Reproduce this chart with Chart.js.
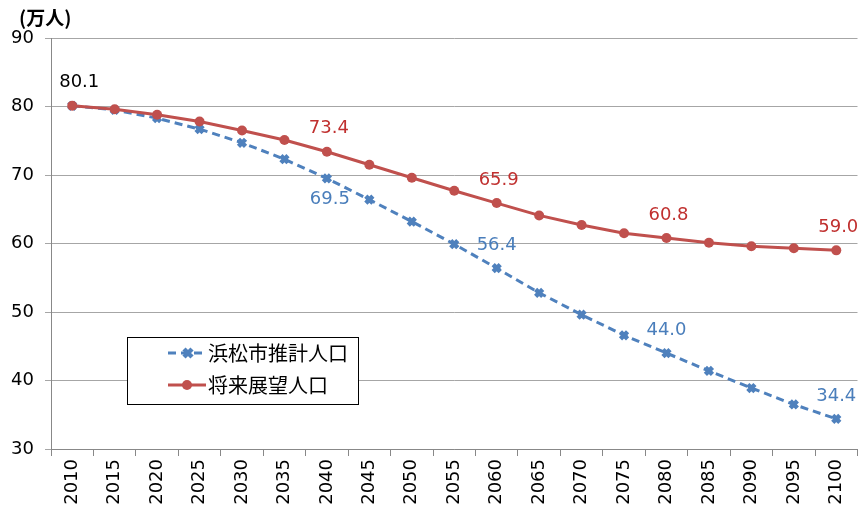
<!DOCTYPE html>
<html>
<head>
<meta charset="utf-8">
<script src="https://cdn.jsdelivr.net/npm/chart.js@4"></script>
<style>
  html, body { margin: 0; padding: 0; background: #fff; overflow: hidden; }
  #wrap { width: 861px; height: 515px; position: relative; overflow: hidden; }
</style>
</head>
<body>
<div id="wrap"><canvas id="c" width="867" height="515"></canvas></div>
<script>
const years = ['2010','2015','2020','2025','2030','2035','2040','2045','2050','2055',
               '2060','2065','2070','2075','2080','2085','2090','2095','2100'];
const estimate = [80.1, 79.5, 78.3, 76.7, 74.7, 72.3, 69.5, 66.4, 63.2, 59.9,
                  56.4, 52.8, 49.6, 46.6, 44.0, 41.4, 38.9, 36.5, 34.4];
const vision   = [80.1, 79.6, 78.8, 77.8, 76.5, 75.1, 73.4, 71.5, 69.6, 67.7,
                  65.9, 64.1, 62.7, 61.5, 60.8, 60.1, 59.6, 59.3, 59.0];
const yTicks = [30, 40, 50, 60, 70, 80, 90];
const seriesNames = ['浜松市推計人口', '将来展望人口'];
const unitLabel = '(万人)';

// which points get a value label, and where
const estimateLabels = [6, 10, 14, 18];
const visionLabels = [0, 6, 10, 14, 18];

const BLUE = '#4F81BD';
const RED = '#C0504D';
const NUM_FONT = '18px "DejaVu Sans", Verdana, sans-serif';
const JP_FONT = '"Noto Sans CJK JP", sans-serif';

const decorPlugin = {
  id: 'decor',
  afterDatasetsDraw(chart) {
    const ctx = chart.ctx;
    ctx.save();

    // unit label
    ctx.fillStyle = '#000';
    ctx.font = 'bold 19px ' + JP_FONT;
    ctx.textAlign = 'left';
    ctx.textBaseline = 'middle';
    ctx.fillText(unitLabel, 19, 18);

    // value labels
    ctx.font = NUM_FONT;
    ctx.textAlign = 'center';
    ctx.textBaseline = 'middle';
    const blueMeta = chart.getDatasetMeta(0);
    estimateLabels.forEach(i => {
      const p = blueMeta.data[i];
      ctx.fillStyle = '#4A7EBB';
      const below = i === 6;
      ctx.fillText(estimate[i].toFixed(1), p.x + (below ? 3 : 0), below ? p.y + 21 : p.y - 23);
    });
    const redMeta = chart.getDatasetMeta(1);
    visionLabels.forEach(i => {
      const p = redMeta.data[i];
      ctx.fillStyle = i === 0 ? '#000' : '#C0302F';
      ctx.fillText(vision[i].toFixed(1), p.x + (i === 0 ? 7 : 2), p.y - 23);
    });

    // legend box
    ctx.fillStyle = '#fff';
    ctx.fillRect(127, 337, 231, 67);
    ctx.strokeStyle = '#000';
    ctx.lineWidth = 1;
    ctx.strokeRect(127.5, 337.5, 231, 67);

    // estimate row
    ctx.strokeStyle = BLUE;
    ctx.lineWidth = 3;
    ctx.setLineDash([8, 5]);
    ctx.beginPath(); ctx.moveTo(168, 353); ctx.lineTo(205, 353); ctx.stroke();
    ctx.setLineDash([]);
    ctx.lineWidth = 4.5;
    ctx.beginPath();
    ctx.moveTo(184, 349); ctx.lineTo(192, 357);
    ctx.moveTo(192, 349); ctx.lineTo(184, 357);
    ctx.stroke();

    // vision row
    ctx.strokeStyle = RED;
    ctx.lineWidth = 3;
    ctx.beginPath(); ctx.moveTo(168, 385); ctx.lineTo(206, 385); ctx.stroke();
    ctx.fillStyle = RED;
    ctx.beginPath(); ctx.arc(187, 385, 5, 0, Math.PI * 2); ctx.fill();

    ctx.fillStyle = '#000';
    ctx.font = '20px ' + JP_FONT;
    ctx.textAlign = 'left';
    ctx.fillText(seriesNames[0], 208, 353);
    ctx.fillText(seriesNames[1], 208, 385);

    ctx.restore();
  }
};

new Chart(document.getElementById('c'), {
  type: 'line',
  data: {
    labels: years,
    datasets: [
      {
        label: seriesNames[0],
        data: estimate,
        borderColor: BLUE,
        backgroundColor: BLUE,
        borderWidth: 3,
        borderDash: [8, 5],
        pointStyle: 'crossRot',
        pointRadius: 5,
        pointBorderWidth: 4.5,
        pointBorderColor: BLUE,
        tension: 0,
        order: 2
      },
      {
        label: seriesNames[1],
        data: vision,
        borderColor: RED,
        backgroundColor: RED,
        borderWidth: 3,
        pointStyle: 'circle',
        pointRadius: 5,
        pointBorderWidth: 0,
        tension: 0,
        order: 1
      }
    ]
  },
  options: {
    responsive: false,
    animation: false,
    layout: { padding: { top: 38, right: 0, left: 0, bottom: 0 } },
    plugins: {
      legend: { display: false },
      tooltip: { enabled: false }
    },
    scales: {
      x: {
        offset: true,
        grid: {
          offset: true,
          drawOnChartArea: false,
          drawTicks: true,
          tickLength: 7,
          color: '#888'
        },
        border: { color: '#888', width: 1 },
        ticks: {
          color: '#000',
          font: { family: '"DejaVu Sans", Verdana, sans-serif', size: 18 },
          minRotation: 90,
          maxRotation: 90,
          autoSkip: false,
          padding: 3
        },
        afterFit(scale) { scale.height = 66; }
      },
      y: {
        min: 30,
        max: 90,
        afterBuildTicks(scale) { scale.ticks = yTicks.map(v => ({ value: v })); },
        grid: { color: '#A6A6A6', tickLength: 6, lineWidth: 1 },
        border: { color: '#888', width: 1 },
        ticks: {
          color: '#000',
          font: { family: '"DejaVu Sans", Verdana, sans-serif', size: 18 },
          padding: 11
        },
        afterFit(scale) { scale.width = 51; }
      }
    }
  },
  plugins: [decorPlugin]
});
</script>
</body>
</html>
